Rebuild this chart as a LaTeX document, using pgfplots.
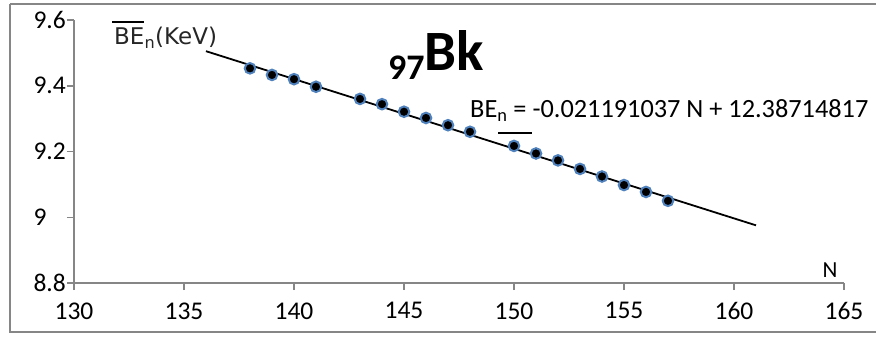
\documentclass[border=0pt]{standalone}
\usepackage{pgfplots}
\pgfplotsset{compat=1.18}
\usepackage{fontspec}
\setmainfont{Carlito}
\newfontfamily\dejavu{DejaVu Sans}
\definecolor{axgray}{HTML}{868686}
\definecolor{mkblue}{HTML}{4F81BD}
\begin{document}
\begin{tikzpicture}[x=1pt,y=1pt]
\useasboundingbox (0,0) rectangle (876,338);
\draw[axgray, line width=1.5pt] (10,334) -- (880,334);
\draw[axgray, line width=1.5pt] (10,334) -- (10,6) -- (880,6);
\begin{axis}[at={(74pt,55pt)}, anchor=south west, scale only axis,
  width=770pt, height=263pt,
  xmin=130, xmax=165, ymin=8.8, ymax=9.6,
  xtick={130,135,...,165}, ytick={8.8,9,9.2,9.4,9.6},
  yticklabels={8.8,9,9.2,9.4,9.6},
  axis lines*=left,
  axis line style={axgray, line width=1.5pt},
  tick style={axgray, line width=1.5pt},
  tick align=outside, major tick length=7pt,
  ticklabel style={font=\fontsize{25.5}{30}\selectfont, text=black},
  /pgf/number format/assume math mode=true,
  xticklabel style={yshift=-9pt},
  yticklabel style={anchor=west, xshift=-37pt},
  clip=false]
\addplot[black, line width=1.8pt] coordinates {(136,9.50517) (161,8.97539)};
\addplot[only marks, mark=*, mark size=5.3pt, mark options={fill=black, draw=mkblue, line width=2pt}] coordinates {
(138,9.453) (139,9.433) (140,9.420) (141,9.397) (143,9.360) (144,9.344)
(145,9.321) (146,9.302) (147,9.280) (148,9.260) (150,9.217) (151,9.194)
(152,9.173) (153,9.147) (154,9.124) (155,9.098) (156,9.077) (157,9.050)};
\end{axis}
\node[anchor=base west, inner sep=0, text=black!85, font=\dejavu\fontsize{23}{27}\selectfont] at (114,293) {BE\textsubscript{n}(KeV)};
\draw[black, line width=2pt] (112,316) -- (144,316);
\node[anchor=base west, inner sep=0, font=\bfseries] at (388,258) {\fontsize{36}{40}\selectfont 97\raisebox{10pt}{\fontsize{57}{60}\selectfont Bk}};
\node[anchor=base west, inner sep=0, font=\fontsize{26.3}{30}\selectfont] at (470,220) {BE\textsubscript{n} = -0.021191037 N + 12.38714817};
\draw[black, line width=1.5pt] (498,205) -- (532,205);
\node[anchor=base, inner sep=0, font=\fontsize{23}{27}\selectfont] at (830,61) {N};
\end{tikzpicture}
\end{document}
